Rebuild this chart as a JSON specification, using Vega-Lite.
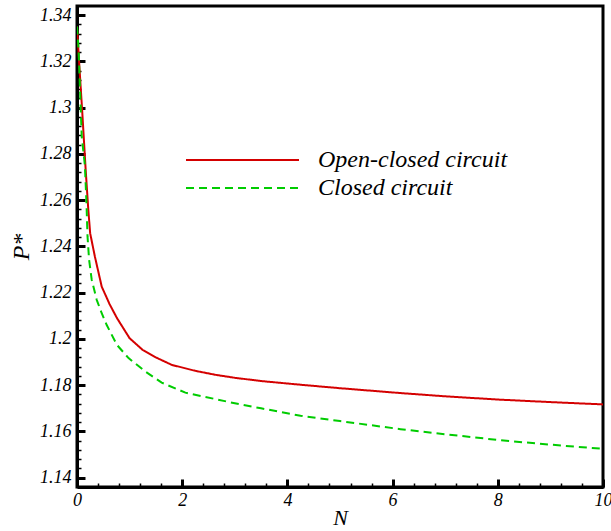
{
  "$schema": "https://vega.github.io/schema/vega-lite/v6.json",
  "width": 526,
  "height": 481,
  "autosize": {"type": "none"},
  "padding": {"left": 77, "top": 6, "right": 8, "bottom": 44},
  "background": "white",
  "config": {
    "view": {"stroke": "black", "strokeWidth": 3},
    "font": "Liberation Serif"
  },
  "data": {"values": [
    {"series": "Open-closed circuit", "N": 0, "P": 1.335},
    {"series": "Open-closed circuit", "N": 0.05, "P": 1.316},
    {"series": "Open-closed circuit", "N": 0.1, "P": 1.298},
    {"series": "Open-closed circuit", "N": 0.165, "P": 1.273},
    {"series": "Open-closed circuit", "N": 0.215, "P": 1.2558},
    {"series": "Open-closed circuit", "N": 0.25, "P": 1.2457},
    {"series": "Open-closed circuit", "N": 0.34, "P": 1.2356},
    {"series": "Open-closed circuit", "N": 0.47, "P": 1.2226},
    {"series": "Open-closed circuit", "N": 0.62, "P": 1.215},
    {"series": "Open-closed circuit", "N": 0.76, "P": 1.209},
    {"series": "Open-closed circuit", "N": 1.0, "P": 1.2003},
    {"series": "Open-closed circuit", "N": 1.25, "P": 1.1952},
    {"series": "Open-closed circuit", "N": 1.5, "P": 1.192},
    {"series": "Open-closed circuit", "N": 1.8, "P": 1.1888},
    {"series": "Open-closed circuit", "N": 2.25, "P": 1.1862},
    {"series": "Open-closed circuit", "N": 2.63, "P": 1.1845},
    {"series": "Open-closed circuit", "N": 3.0, "P": 1.1832},
    {"series": "Open-closed circuit", "N": 3.5, "P": 1.1818},
    {"series": "Open-closed circuit", "N": 4.25, "P": 1.1802},
    {"series": "Open-closed circuit", "N": 5.0, "P": 1.1787},
    {"series": "Open-closed circuit", "N": 6.15, "P": 1.1766},
    {"series": "Open-closed circuit", "N": 7.0, "P": 1.1752},
    {"series": "Open-closed circuit", "N": 8.0, "P": 1.1738},
    {"series": "Open-closed circuit", "N": 9.0, "P": 1.1727},
    {"series": "Open-closed circuit", "N": 10, "P": 1.1717},
    {"series": "Closed circuit", "N": 0, "P": 1.335},
    {"series": "Closed circuit", "N": 0.03, "P": 1.325},
    {"series": "Closed circuit", "N": 0.09, "P": 1.2874},
    {"series": "Closed circuit", "N": 0.15, "P": 1.275},
    {"series": "Closed circuit", "N": 0.18, "P": 1.2587},
    {"series": "Closed circuit", "N": 0.2, "P": 1.2443},
    {"series": "Closed circuit", "N": 0.23, "P": 1.2342},
    {"series": "Closed circuit", "N": 0.28, "P": 1.2255},
    {"series": "Closed circuit", "N": 0.375, "P": 1.2169},
    {"series": "Closed circuit", "N": 0.47, "P": 1.2111},
    {"series": "Closed circuit", "N": 0.565, "P": 1.206},
    {"series": "Closed circuit", "N": 0.76, "P": 1.1974},
    {"series": "Closed circuit", "N": 0.98, "P": 1.1917},
    {"series": "Closed circuit", "N": 1.3, "P": 1.1859},
    {"series": "Closed circuit", "N": 1.61, "P": 1.1811},
    {"series": "Closed circuit", "N": 2.06, "P": 1.1768},
    {"series": "Closed circuit", "N": 2.63, "P": 1.174},
    {"series": "Closed circuit", "N": 3.0, "P": 1.1722},
    {"series": "Closed circuit", "N": 3.5, "P": 1.17},
    {"series": "Closed circuit", "N": 4.25, "P": 1.1668},
    {"series": "Closed circuit", "N": 5.0, "P": 1.1645},
    {"series": "Closed circuit", "N": 6.15, "P": 1.161},
    {"series": "Closed circuit", "N": 7.0, "P": 1.1588},
    {"series": "Closed circuit", "N": 8.06, "P": 1.1562},
    {"series": "Closed circuit", "N": 9.0, "P": 1.1543},
    {"series": "Closed circuit", "N": 10, "P": 1.1525}
  ]},
  "mark": {"type": "line", "strokeWidth": 2, "clip": true},
  "encoding": {
    "x": {
      "field": "N", "type": "quantitative",
      "scale": {"domain": [0, 10], "nice": false, "zero": false},
      "axis": {
        "values": [0, 0.4, 0.8, 1.2, 1.6, 2, 2.4, 2.8, 3.2, 3.6, 4, 4.4, 4.8, 5.2, 5.6, 6, 6.4, 6.8, 7.2, 7.6, 8, 8.4, 8.8, 9.2, 9.6, 10],
        "labelExpr": "abs(datum.value/2 - round(datum.value/2)) < 0.001 ? format(round(datum.value), 'd') : ''",
        "labelOverlap": false, "labelBound": false, "labelFlush": false,
        "grid": false,
        "domainColor": "black", "domainWidth": 3,
        "tickColor": "black",
        "tickSize": {"condition": {"test": "abs(datum.value/2 - round(datum.value/2)) < 0.001", "value": -8}, "value": -4},
        "tickWidth": {"condition": {"test": "abs(datum.value/2 - round(datum.value/2)) < 0.001", "value": 3}, "value": 1.5},
        "labelFont": "Liberation Serif", "labelFontStyle": "italic", "labelFontSize": 18, "labelColor": "black",
        "labelPadding": 12,
        "title": "N",
        "titleFont": "Liberation Serif", "titleFontStyle": "italic", "titleFontWeight": "normal", "titleFontSize": 22, "titleColor": "black",
        "titlePadding": -6
      }
    },
    "y": {
      "field": "P", "type": "quantitative",
      "scale": {"domain": [1.136, 1.3439], "nice": false, "zero": false},
      "axis": {
        "values": [1.14, 1.144, 1.148, 1.152, 1.156, 1.16, 1.164, 1.168, 1.172, 1.176, 1.18, 1.184, 1.188, 1.192, 1.196, 1.2, 1.204, 1.208, 1.212, 1.216, 1.22, 1.224, 1.228, 1.232, 1.236, 1.24, 1.244, 1.248, 1.252, 1.256, 1.26, 1.264, 1.268, 1.272, 1.276, 1.28, 1.284, 1.288, 1.292, 1.296, 1.3, 1.304, 1.308, 1.312, 1.316, 1.32, 1.324, 1.328, 1.332, 1.336, 1.34],
        "labelExpr": "abs(datum.value*50 - round(datum.value*50)) < 0.01 ? format(datum.value, '.2~f') : ''",
        "labelOverlap": false, "labelBound": false, "labelFlush": false,
        "grid": false,
        "domainColor": "black", "domainWidth": 3,
        "tickColor": "black",
        "tickSize": {"condition": {"test": "abs(datum.value*50 - round(datum.value*50)) < 0.01", "value": -8}, "value": -4},
        "tickWidth": {"condition": {"test": "abs(datum.value*50 - round(datum.value*50)) < 0.01", "value": 3}, "value": 1.5},
        "labelFont": "Liberation Serif", "labelFontStyle": "italic", "labelFontSize": 18, "labelColor": "black",
        "labelPadding": 14,
        "title": "P*",
        "titleFont": "Liberation Serif", "titleFontStyle": "italic", "titleFontWeight": "normal", "titleFontSize": 24, "titleColor": "black",
        "titlePadding": 6
      }
    },
    "color": {
      "field": "series", "type": "nominal",
      "scale": {"domain": ["Open-closed circuit", "Closed circuit"], "range": ["#d40000", "#00cc00"]},
      "legend": {
        "orient": "none", "legendX": 108, "legendY": 141, "title": null,
        "symbolType": "stroke", "symbolSize": 12769, "symbolStrokeWidth": 2,
        "labelFont": "Liberation Serif", "labelFontStyle": "italic", "labelFontSize": 24, "labelColor": "black",
        "labelOffset": 18, "labelLimit": 0, "rowPadding": 2, "clipHeight": 26
      }
    },
    "strokeDash": {
      "field": "series", "type": "nominal",
      "scale": {"domain": ["Open-closed circuit", "Closed circuit"], "range": [[1, 0], [8, 5]]},
      "legend": {
        "orient": "none", "legendX": 108, "legendY": 141, "title": null,
        "symbolType": "stroke", "symbolSize": 12769, "symbolStrokeWidth": 2,
        "labelFont": "Liberation Serif", "labelFontStyle": "italic", "labelFontSize": 24, "labelColor": "black",
        "labelOffset": 18, "labelLimit": 0, "rowPadding": 2, "clipHeight": 26
      }
    }
  }
}
